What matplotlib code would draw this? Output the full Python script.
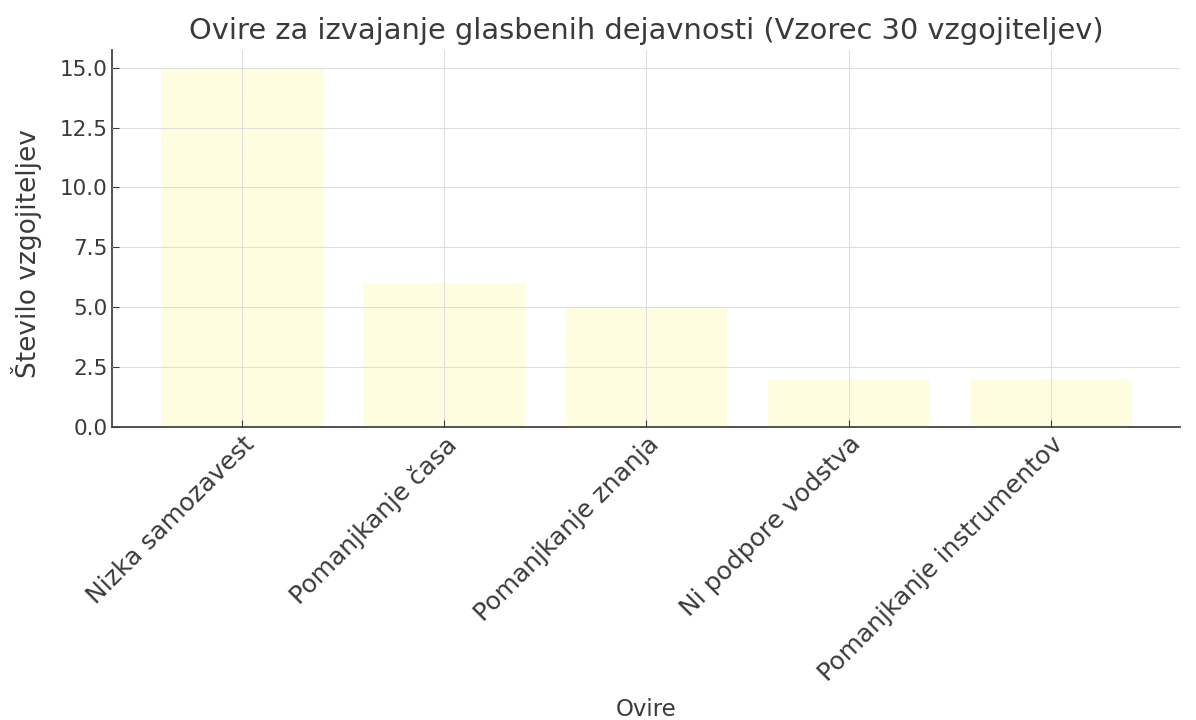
import matplotlib
matplotlib.use('Agg')
import matplotlib.pyplot as plt
from matplotlib import ticker

categories = ['Nizka samozavest', 'Pomanjkanje časa', 'Pomanjkanje znanja',
              'Ni podpore vodstva', 'Pomanjkanje instrumentov']
counts = [15, 6, 5, 2, 2]

textcol = '#3a3a3a'
matplotlib.rcParams['xtick.direction'] = 'in'
matplotlib.rcParams['ytick.direction'] = 'in'
matplotlib.rcParams['text.color'] = textcol
matplotlib.rcParams['axes.labelcolor'] = textcol
matplotlib.rcParams['xtick.color'] = textcol
matplotlib.rcParams['ytick.color'] = textcol

fig = plt.figure(figsize=(11.96, 7.2), dpi=100)
ax = fig.add_axes([0.094, 0.407, 0.893, 0.524])

ax.bar(categories, counts, color='#fffde0', width=0.8, zorder=1)
ax.grid(True, color='#dcdcdc', linestyle='-', linewidth=0.7, zorder=2)
ax.set_axisbelow(False)
ax.yaxis.set_major_locator(ticker.MultipleLocator(2.5))
ax.yaxis.set_major_formatter(ticker.FormatStrFormatter('%.1f'))

for s in ['top', 'right']:
    ax.spines[s].set_visible(False)
for s in ['left', 'bottom']:
    ax.spines[s].set_color('#444444')
    ax.spines[s].set_linewidth(1.3)

ax.set_title('Ovire za izvajanje glasbenih dejavnosti (Vzorec 30 vzgojiteljev)',
             fontsize=20.8, pad=8)
ax.set_xlabel('Ovire', fontsize=16.5)
ax.xaxis.set_label_coords(0.5, -0.718)
ax.set_ylabel('Število vzgojiteljev', fontsize=19)
ax.yaxis.set_label_coords(-0.066, 0.46)
ax.tick_params(axis='y', labelsize=15.5, length=5)
ax.tick_params(axis='x', labelsize=18, length=5)
plt.setp(ax.get_xticklabels(), rotation=45, ha='right', rotation_mode='anchor')

fig.savefig('out.png', dpi=100)
